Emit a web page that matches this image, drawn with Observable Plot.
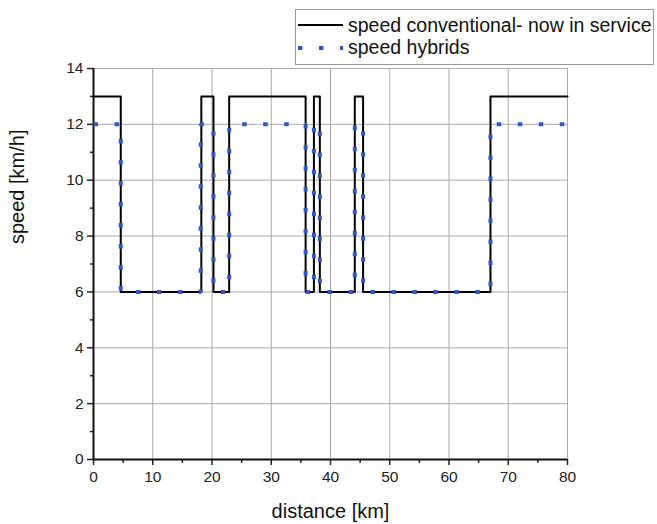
<!DOCTYPE html>
<html>
<head>
<meta charset="utf-8">
<script src="https://cdn.jsdelivr.net/npm/d3@7"></script>
<script src="https://cdn.jsdelivr.net/npm/@observablehq/plot@0.6"></script>
<style>
  html, body { margin: 0; padding: 0; background: #fff; }
  #wrap { position: relative; width: 657px; height: 524px; font-family: "Liberation Sans", Arial, sans-serif; }
  #legend { position: absolute; left: 295px; top: 9px; width: 359px; height: 56px; border: 1px solid #999; background: #fff; box-sizing: border-box; font-size: 19.5px; color: #111; }
  .sw { position: absolute; left: 0; }
  .lab { position: absolute; left: 52px; line-height: 22px; white-space: nowrap; }
</style>
</head>
<body>
<div id="wrap">
  <div id="chart"></div>
  <div id="legend">
    <svg class="sw" style="top:4px" width="52" height="22"><line x1="2" x2="47" y1="11" y2="11" stroke="#000" stroke-width="2"/></svg>
    <span class="lab" style="top:4px">speed conventional- now in service</span>
    <svg class="sw" style="top:27px" width="52" height="22"><line x1="1" x2="47" y1="11" y2="11" stroke="#2f58c2" stroke-width="4" stroke-dasharray="4.5,16.5" stroke-dashoffset="-1"/></svg>
    <span class="lab" style="top:26px">speed hybrids</span>
  </div>
</div>
<script>
// conventional vessel (now in service): step changes in speed along the route
const convDistance = [0, 4.6, 18.2, 20.25, 22.9, 35.8, 37.2, 38.2, 44.1, 45.5, 67.0, 80];
const convSpeed    = [13, 6,  13,   6,     13,   6,    13,   6,    13,   6,    13,   13];
// hybrid vessels
const hybDistance  = [0, 4.6, 18.1, 20.25, 22.9, 35.8, 37.2, 38.2, 44.1, 45.5, 67.0, 80];
const hybSpeed     = [12, 6,  12,   6,     12,   6,    12,   6,    12,   6,    12,   12];

const xMajor = [0, 10, 20, 30, 40, 50, 60, 70, 80];
const xMinor = [5, 15, 25, 35, 45, 55, 65, 75];
const yMajor = [0, 2, 4, 6, 8, 10, 12, 14];
const yMinor = [1, 3, 5, 7, 9, 11, 13];

const conv = convDistance.map((d, i) => ({distance: d, speed: convSpeed[i]}));
const hyb = hybDistance.map((d, i) => ({distance: d, speed: hybSpeed[i]}));

const chart = Plot.plot({
  width: 657,
  height: 524,
  marginLeft: 93,
  marginRight: 90,
  marginTop: 68,
  marginBottom: 65,
  style: {fontFamily: '"Liberation Sans", Arial, sans-serif', fontSize: "15.5px", color: "#222", background: "#fff"},
  x: {domain: [0, 80]},
  y: {domain: [0, 14]},
  marks: [
    Plot.gridX(xMajor, {stroke: "#aaa", strokeOpacity: 1, strokeWidth: 1}),
    Plot.gridY(yMajor, {stroke: "#aaa", strokeOpacity: 1, strokeWidth: 1}),
    Plot.axisX(xMajor, {tickSize: 6, tickPadding: 5, label: null, fontSize: 15.5, stroke: "#222", strokeWidth: 1.5}),
    Plot.axisX(xMinor, {tickSize: 4, tickFormat: () => "", label: null, stroke: "#222", strokeWidth: 1.5}),
    Plot.axisY(yMajor, {tickSize: 6, tickPadding: 4, label: null, fontSize: 15.5, stroke: "#222", strokeWidth: 1.5}),
    Plot.axisY(yMinor, {tickSize: 3, tickFormat: () => "", label: null, stroke: "#222", strokeWidth: 1.5}),
    Plot.ruleX([0], {stroke: "#111", strokeWidth: 2}),
    Plot.ruleY([0], {stroke: "#111", strokeWidth: 2}),
    Plot.line(conv, {x: "distance", y: "speed", curve: "step-after", stroke: "#000", strokeWidth: 2}),
    Plot.line(hyb, {x: "distance", y: "speed", curve: "step-after", stroke: "#2f58c2", strokeWidth: 4, strokeDasharray: "4.5,16.5", strokeLinecap: "butt", strokeLinejoin: "miter"}),
    Plot.text(["distance [km]"], {frameAnchor: "bottom", dy: 58, fontSize: 20, fill: "#111"}),
    Plot.text(["speed [km/h]"], {frameAnchor: "left", dx: -76, dy: -20, rotate: -90, fontSize: 20, fill: "#111"})
  ]
});
document.getElementById("chart").appendChild(chart);
</script>
</body>
</html>
